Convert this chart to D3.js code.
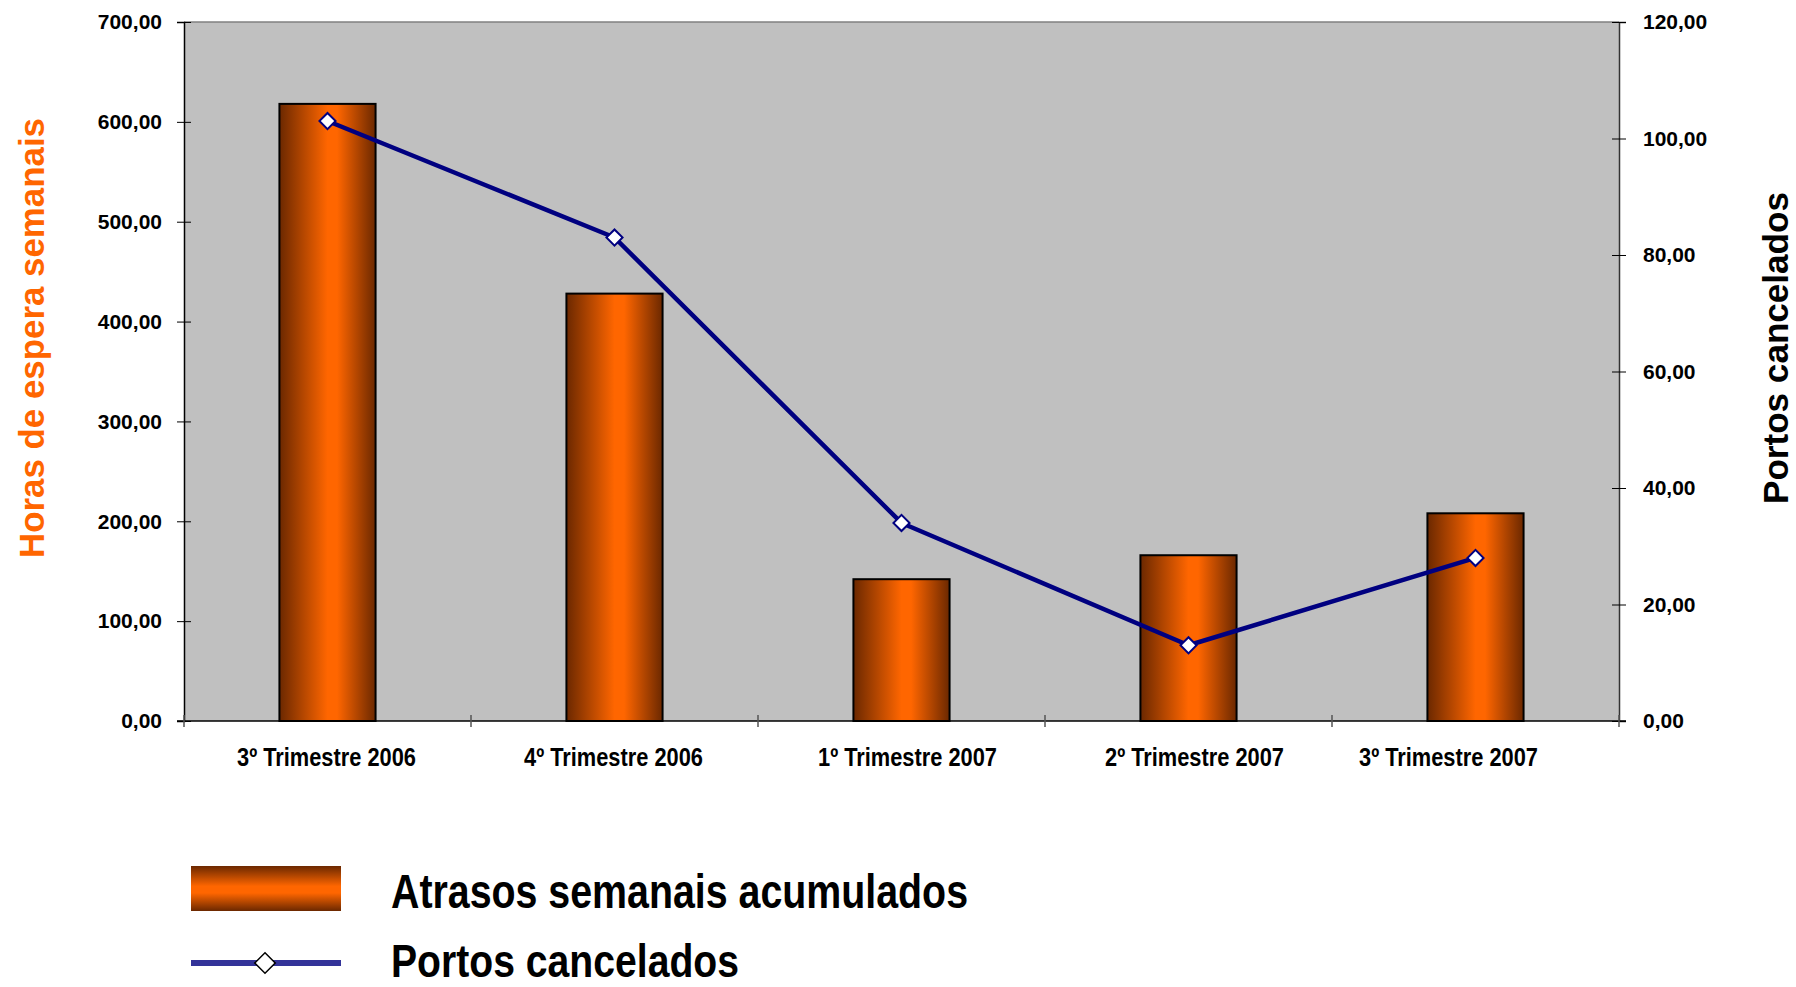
<!DOCTYPE html>
<html><head><meta charset="utf-8">
<script src="https://cdn.jsdelivr.net/npm/d3@7"></script>
<style>
body{margin:0;background:#fff;}
text{font-family:"Liberation Sans Narrow","Arial Narrow",sans-serif;font-weight:bold;}
.title{font-family:"Liberation Sans",Arial,sans-serif;}
</style></head><body>
<svg id="c" width="1796" height="987"></svg>
<script>
const categories = ["3º Trimestre 2006","4º Trimestre 2006","1º Trimestre 2007","2º Trimestre 2007","3º Trimestre 2007"];
const atrasos = [618, 428, 142, 166, 208];
const portos = [103, 83, 34, 13, 28];
const leftTicks = [0,100,200,300,400,500,600,700];
const rightTicks = [0,20,40,60,80,100,120];
const seriesNames = ["Atrasos semanais acumulados","Portos cancelados"];
const leftTitle = "Horas de espera semanais";
const rightTitle = "Portos cancelados";

// layout
const labelShift = [0, 0, 7, 7, -26];

const svg = d3.select("#c");
const L=184, R=1619, T=22, B=721;
const fmt = v => d3.format(".2f")(v).replace(".", ",");

const x = d3.scaleBand().domain(categories).range([L,R]).paddingInner(0.665).paddingOuter(0.3325);
const yL = d3.scaleLinear().domain([0,700]).range([B,T]);
const yR = d3.scaleLinear().domain([0,120]).range([B,T]);

const defs = svg.append("defs");
const g1 = defs.append("linearGradient").attr("id","barGrad").attr("x1","0").attr("x2","1").attr("y1","0").attr("y2","0");
[[0,"#6b2800"],[0.5,"#ff6600"],[0.6,"#ff6600"],[1,"#6b2800"]].forEach(s=>g1.append("stop").attr("offset",s[0]).attr("stop-color",s[1]));
const g2 = defs.append("linearGradient").attr("id","legGrad").attr("x1","0").attr("x2","0").attr("y1","0").attr("y2","1");
[[0,"#6b2800"],[0.45,"#ff6600"],[0.6,"#ff6600"],[1,"#6b2800"]].forEach(s=>g2.append("stop").attr("offset",s[0]).attr("stop-color",s[1]));

// plot background
svg.append("rect").attr("x",L).attr("y",T).attr("width",R-L).attr("height",B-T).attr("fill","#c0c0c0");
svg.append("line").attr("x1",L).attr("x2",R).attr("y1",T).attr("y2",T).attr("stroke","#808080").attr("stroke-width",1.5);

// bars
svg.selectAll(".bar").data(atrasos).join("rect")
  .attr("x",(d,i)=>x(categories[i])).attr("width",x.bandwidth())
  .attr("y",d=>yL(d)).attr("height",d=>B-yL(d))
  .attr("fill","url(#barGrad)").attr("stroke","#000").attr("stroke-width",2);

// axes
const axL = svg.append("g").attr("transform",`translate(${L},0)`)
  .call(d3.axisLeft(yL).tickValues(leftTicks).tickFormat(fmt).tickSize(7).tickPadding(15));
axL.selectAll(".tick line").attr("x2",-7).attr("x1",7).attr("stroke","#000");
axL.select(".domain").attr("stroke","#000").attr("stroke-width",1.5);
axL.selectAll("text").style("font-size","21px").attr("fill","#000");

const axR = svg.append("g").attr("transform",`translate(${R},0)`)
  .call(d3.axisRight(yR).tickValues(rightTicks).tickFormat(fmt).tickSize(7).tickPadding(17));
axR.selectAll(".tick line").attr("x1",-7).attr("x2",7).attr("stroke","#000");
axR.select(".domain").attr("stroke","#333").attr("stroke-width",1.5);
axR.selectAll("text").style("font-size","21px").attr("fill","#000");

// bottom axis
svg.append("line").attr("x1",L-7).attr("x2",R+7).attr("y1",B).attr("y2",B).attr("stroke","#000").attr("stroke-width",1.5);
const bounds = d3.range(categories.length+1).map(i=>L+i*x.step());
svg.selectAll(".xt").data(bounds).join("line").attr("x1",d=>d).attr("x2",d=>d).attr("y1",B-6).attr("y2",B+6).attr("stroke","#555").attr("stroke-width",1.5);
svg.selectAll(".xl").data(categories).join("text")
  .attr("x",(d,i)=>x(d)+x.bandwidth()/2-1+labelShift[i]).attr("y",766).attr("text-anchor","middle")
  .style("font-size","26px").attr("textLength",179).attr("lengthAdjust","spacingAndGlyphs").text(d=>d);

// line
const line = d3.line().x((d,i)=>x(categories[i])+x.bandwidth()/2).y(d=>yR(d));
svg.append("path").datum(portos).attr("d",line).attr("fill","none").attr("stroke","#000080").attr("stroke-width",4.5).attr("stroke-linejoin","round");
const diamond = d3.symbol().type(d3.symbolSquare).size(130);
svg.selectAll(".pt").data(portos).join("path")
  .attr("d",diamond())
  .attr("transform",(d,i)=>`translate(${x(categories[i])+x.bandwidth()/2},${yR(d)}) rotate(45)`)
  .attr("fill","#fff").attr("stroke","#000080").attr("stroke-width",2);

// axis titles
svg.append("text").attr("class","title").attr("transform","translate(44,338) rotate(-90)")
  .attr("text-anchor","middle").style("font-size","35px").attr("fill","#ff6600")
  .attr("textLength",440).attr("lengthAdjust","spacingAndGlyphs").text(leftTitle);
svg.append("text").attr("class","title").attr("transform","translate(1788,348) rotate(-90)")
  .attr("text-anchor","middle").style("font-size","35px").attr("fill","#000")
  .attr("textLength",312).attr("lengthAdjust","spacingAndGlyphs").text(rightTitle);

// legend
svg.append("rect").attr("x",191).attr("y",866).attr("width",150).attr("height",45).attr("fill","url(#legGrad)");
svg.append("text").attr("x",391).attr("y",908).style("font-size","48px")
  .attr("textLength",577).attr("lengthAdjust","spacingAndGlyphs").text(seriesNames[0]);
svg.append("line").attr("x1",191).attr("x2",341).attr("y1",963).attr("y2",963).attr("stroke","#333399").attr("stroke-width",6);
svg.append("path").attr("d",d3.symbol().type(d3.symbolSquare).size(210)()).attr("transform","translate(265,963) rotate(45)").attr("fill","#fff").attr("stroke","#000").attr("stroke-width",1.5);
svg.append("text").attr("x",391).attr("y",977).style("font-size","46px")
  .attr("textLength",348).attr("lengthAdjust","spacingAndGlyphs").text(seriesNames[1]);
</script></body></html>
